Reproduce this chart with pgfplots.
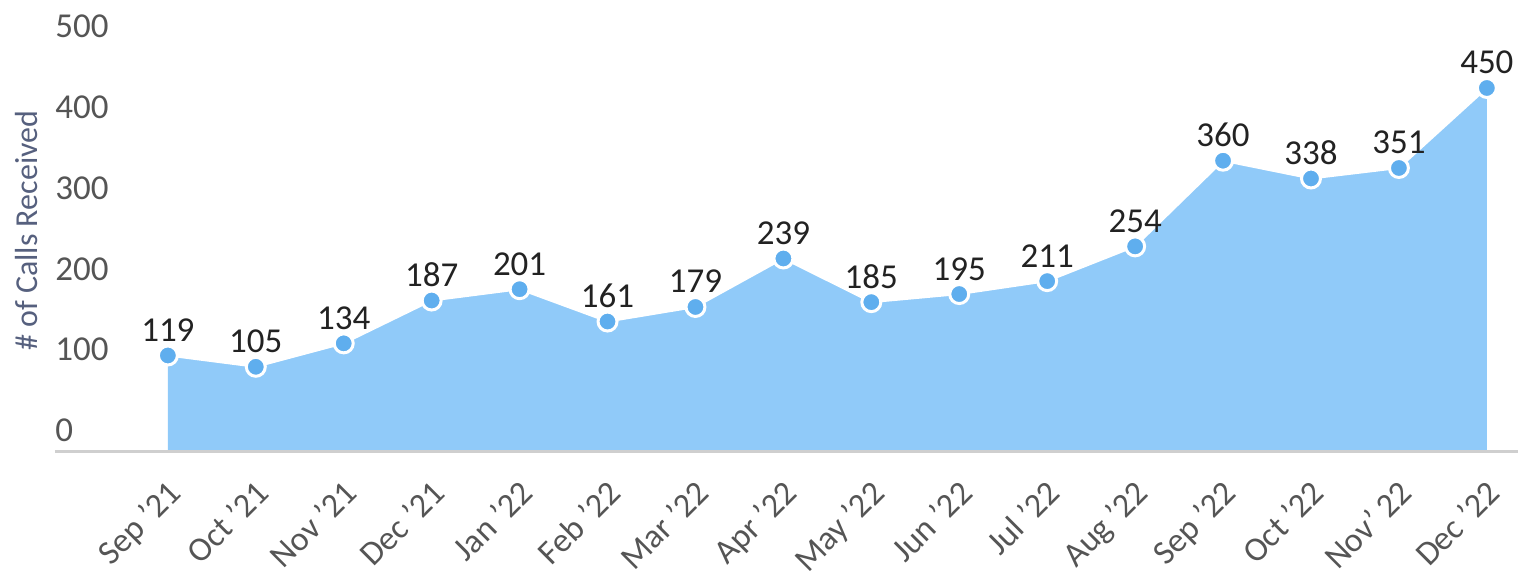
\documentclass[border=0pt]{standalone}
\usepackage{fontspec}
\setmainfont{Carlito}
\usepackage{pgfplots}
\pgfplotsset{compat=1.18}

\definecolor{areablue}{HTML}{90CAF9}
\definecolor{dotblue}{HTML}{5FAEEE}
\definecolor{tickgray}{HTML}{555555}
\definecolor{ylabcol}{HTML}{56607E}
\definecolor{basegray}{HTML}{CFCFCF}
\definecolor{datacol}{HTML}{222222}

\pgfplotstableread{
x y
0 119
1 105
2 134
3 187
4 201
5 161
6 179
7 239
8 185
9 195
10 211
11 254
12 360
13 338
14 351
15 450
}\calls

\begin{document}
\begin{tikzpicture}
  \begin{axis}[
      scale only axis,
      width=732pt, height=202.2pt,
      xmin=-1.284, xmax=15.352,
      ymin=0, ymax=500,
      clip=false,
      axis line style={draw=none},
      major tick length=0pt,
      xtick={0,...,15},
      xticklabels={Sep '21, Oct '21, Nov '21, Dec '21, Jan '22, Feb '22,
        Mar '22, Apr '22, May '22, Jun '22, Jul '22, Aug '22,
        Sep '22, Oct '22, Nov' 22, Dec '22},
      ytick={0,100,...,500},
      /pgf/number format/assume math mode=true,
      yticklabel style={anchor=base west, inner sep=0pt, yshift=5pt,
        font=\fontsize{17.5}{20}\selectfont, text=tickgray},
      xticklabel style={xshift=-1pt, yshift=-13pt, rotate=45, anchor=north east,
        inner sep=0pt, font=\fontsize{17}{20}\selectfont, text=tickgray},
      ylabel={\# of Calls Received},
      ylabel style={at={(axis description cs:-0.0191,0.5465)}, anchor=center,
        font=\fontsize{16}{19}\selectfont, text=ylabcol},
    ]
    \addplot[fill=areablue, draw=none] table {\calls} \closedcycle;
    \draw[basegray, line width=1.2pt] (rel axis cs:0,0) -- (rel axis cs:1,0);
    \addplot[white, line width=1pt, mark=*, mark size=4.75pt,
      mark options={fill=dotblue, draw=white, line width=1.5pt},
      nodes near coords,
      nodes near coords style={anchor=base, inner sep=0pt, yshift=7pt,
        font=\fontsize{17.5}{20}\selectfont, text=datacol}]
      table {\calls};
    % extend the picture to the reference margins
    \path (rel axis cs:0,1) ++(-27.5pt,23.8pt);
    \path (rel axis cs:1,0) ++(0pt,-57pt);
  \end{axis}
\end{tikzpicture}
\end{document}
